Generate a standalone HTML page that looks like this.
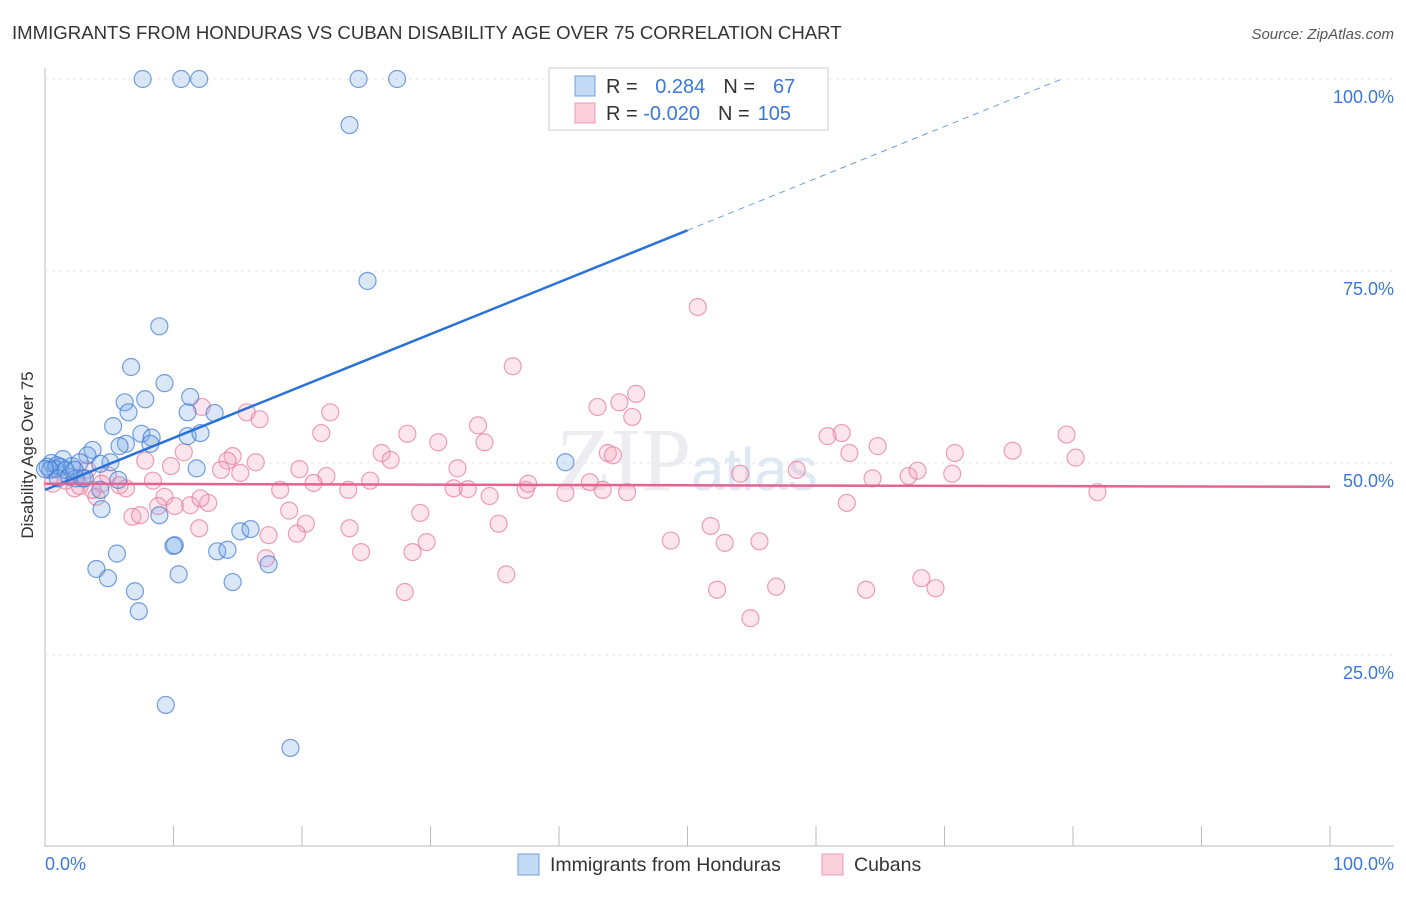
<!DOCTYPE html>
<html><head><meta charset="utf-8"><style>
body{margin:0;background:#fff;font-family:"Liberation Sans",sans-serif}
</style></head><body>
<svg id="c" width="1406" height="892" xmlns="http://www.w3.org/2000/svg">
<text x="12" y="39" font-size="18.6" fill="#333">IMMIGRANTS FROM HONDURAS VS CUBAN DISABILITY AGE OVER 75 CORRELATION CHART</text>
<text x="1394" y="39" font-size="15" fill="#555" font-style="italic" text-anchor="end">Source: ZipAtlas.com</text>
<text x="556" y="490" font-size="90" fill="#ececf1" font-family="Liberation Serif">ZIP<tspan font-family="Liberation Sans" font-size="60" fill="#dfe8f3">atlas</tspan></text>
<g id="grid"></g><g id="pts"></g><g id="lines"></g>
<text transform="translate(33,455) rotate(-90)" font-size="17" fill="#333" text-anchor="middle">Disability Age Over 75</text>
<text x="45" y="870" font-size="18" fill="#3b78d8">0.0%</text>
<text x="1394" y="870" font-size="18" fill="#3b78d8" text-anchor="end">100.0%</text>
<g>
<rect x="549" y="68" width="279" height="62" fill="#fff" stroke="#ccc"/>
<rect x="575" y="76" width="20" height="20" fill="#c5daf5" stroke="#6fa0e0"/>
<rect x="575" y="103" width="20" height="20" fill="#fbd0dc" stroke="#ec9ab3"/>
<text x="606" y="93" font-size="20" fill="#333">R = <tspan fill="#3b78d8" dx="12">0.284</tspan><tspan dx="18">N =</tspan><tspan fill="#3b78d8" dx="18">67</tspan></text>
<text x="606" y="120" font-size="20" fill="#333">R = <tspan fill="#3b78d8">-0.020</tspan><tspan dx="18">N =</tspan><tspan fill="#3b78d8" dx="8">105</tspan></text>
</g>
<g>
<rect x="518" y="854" width="21" height="21" fill="#c5daf5" stroke="#6fa0e0"/>
<text x="550" y="871" font-size="19.5" fill="#333">Immigrants from Honduras</text>
<rect x="822" y="854" width="21" height="21" fill="#fbd0dc" stroke="#ec9ab3"/>
<text x="854" y="871" font-size="19.5" fill="#333">Cubans</text>
</g>
</svg>
<script>
const yTicks=[25,50,75,100];
const yTickLabels=["25.0%","50.0%","75.0%","100.0%"];
const xTicks=[0,10,20,30,40,50,60,70,80,90,100];
const blueX=[7.6,10.6,12.0,24.4,27.4,23.7,25.1,8.9,6.7,9.3,11.3,6.2,7.8,6.5,11.1,13.2,5.3,7.5,8.3,11.1,12.1,3.7,6.3,5.8,8.2,1.4,3.3,5.1,11.8,40.5,0.5,1.2,2.1,2.7,4.3,0.8,1.9,2.4,2.9,0.2,0.9,4.3,4.4,8.9,15.2,16.0,10.1,10.0,13.4,14.2,5.6,4.0,10.4,4.9,14.6,17.4,7.0,7.3,9.4,19.1,0.4,1.6,3.1,2.3,5.7,1.0,0];
const blueY=[100,100,100,100,100,94.0,73.7,67.8,62.5,60.4,58.6,57.9,58.3,56.6,56.6,56.5,54.8,53.8,53.3,53.5,53.9,51.7,52.5,52.2,52.5,50.5,51.0,50.1,49.3,50.1,50.0,49.5,49.6,50.1,49.9,49.2,48.2,48.0,48.0,49.5,49.7,46.5,44.0,43.2,41.1,41.4,39.3,39.2,38.5,38.7,38.2,36.2,35.5,35.0,34.5,36.8,33.3,30.7,18.5,12.9,49.1,49.1,48.0,49.1,47.8,48.0,49.2];
const pinkX=[50.8,36.4,46.0,43.0,44.7,45.7,33.7,22.2,15.7,16.7,12.2,21.5,28.2,30.6,34.2,26.2,26.9,14.6,14.2,7.8,9.8,10.8,60.9,62.0,62.6,64.8,70.8,75.3,79.5,80.2,43.8,44.2,54.1,58.5,64.4,67.2,67.9,70.6,19.8,21.9,32.1,25.3,15.2,13.7,16.4,3.3,4.9,5.8,8.4,4.4,2.3,2.7,0.6,1.6,4.0,3.7,6.3,9.3,12.7,11.3,18.3,20.9,23.6,31.8,32.9,34.6,37.4,37.6,40.5,42.4,43.4,45.3,81.9,62.4,12.1,10.1,19.0,20.3,19.6,17.4,12.0,8.8,6.8,7.4,29.2,35.3,23.7,29.7,28.6,24.6,48.7,52.9,55.6,51.8,35.9,17.2,28.0,52.3,56.9,63.9,68.2,69.3,54.9];
const pinkY=[70.3,62.6,59.0,57.3,57.9,56.0,54.9,56.6,56.6,55.7,57.3,53.9,53.8,52.7,52.7,51.3,50.4,50.9,50.3,50.3,49.6,51.4,53.5,53.9,51.3,52.2,51.3,51.6,53.7,50.7,51.3,51.0,48.6,49.1,48.0,48.3,49.0,48.6,49.2,48.3,49.3,47.7,48.7,49.1,50.1,49.1,48.4,47.1,47.7,47.3,46.7,47.0,47.3,47.7,45.6,46.5,46.7,45.6,44.8,44.5,46.5,47.4,46.5,46.7,46.6,45.7,46.5,47.3,46.1,47.5,46.5,46.2,46.2,44.8,45.4,44.4,43.8,42.1,40.8,40.6,41.5,44.4,43.0,43.2,43.5,42.1,41.5,39.7,38.4,38.4,39.9,39.6,39.8,41.8,35.5,37.6,33.2,33.5,33.9,33.5,35.0,33.7,29.8];
const blueLine=[46.5,0.676];   // intercept, slope
const pinkLine=[47.3,-0.004];
const X=v=>45+v*12.85, Y=v=>847-v*7.68;
const NS="http://www.w3.org/2000/svg";
function mk(t,a,p){const e=document.createElementNS(NS,t);for(const k in a)e.setAttribute(k,a[k]);p.appendChild(e);return e;}
const G=document.getElementById('grid');
const ax=mk('line',{x1:45,y1:68,x2:45,y2:847,stroke:'#bbb'},G);


const bx=mk('line',{x1:45,y1:846,x2:1394,y2:846,stroke:'#bbb'},G);


yTicks.forEach((t,i)=>{
 const l=mk('line',{x1:45,y1:Y(t),x2:1394,y2:Y(t),stroke:'#e6e6e6','stroke-dasharray':'3,4'},G);
 
 
 const tx=mk('text',{x:1394,y:Y(t)+24,'font-size':18,fill:'#3b78d8','text-anchor':'end'},G);
 tx.textContent=yTickLabels[i];
 
 
});
xTicks.forEach(t=>{
 const l=mk('line',{x1:X(t),y1:826,x2:X(t),y2:846,stroke:'#bbb'},G);
 
 
});
const P=document.getElementById('pts');
pinkX.forEach((x,i)=>{
 const c=mk('circle',{cx:X(x),cy:Y(pinkY[i]),r:8.5,fill:'rgba(245,160,185,0.28)',stroke:'rgba(230,120,155,0.7)','stroke-width':1.2},P);
 
 
});
blueX.forEach((x,i)=>{
 const c=mk('circle',{cx:X(x),cy:Y(blueY[i]),r:8.5,fill:'rgba(120,170,235,0.28)',stroke:'rgba(60,120,210,0.7)','stroke-width':1.2},P);
 
 
});
const L=document.getElementById('lines');
const bEnd=(100-blueLine[0])/blueLine[1];
const b1=mk('line',{x1:X(0),y1:Y(blueLine[0]),x2:X(50),y2:Y(blueLine[0]+blueLine[1]*50),stroke:'#2a72d8','stroke-width':2.5},L);


const b2=mk('line',{x1:X(50),y1:Y(blueLine[0]+blueLine[1]*50),x2:X(bEnd),y2:Y(100),stroke:'#6a9be0','stroke-width':1,'stroke-dasharray':'6,5'},L);


const p1=mk('line',{x1:X(0),y1:Y(pinkLine[0]),x2:X(100),y2:Y(pinkLine[0]+pinkLine[1]*100),stroke:'#e5638f','stroke-width':2.5},L);


</script>
</body></html>
